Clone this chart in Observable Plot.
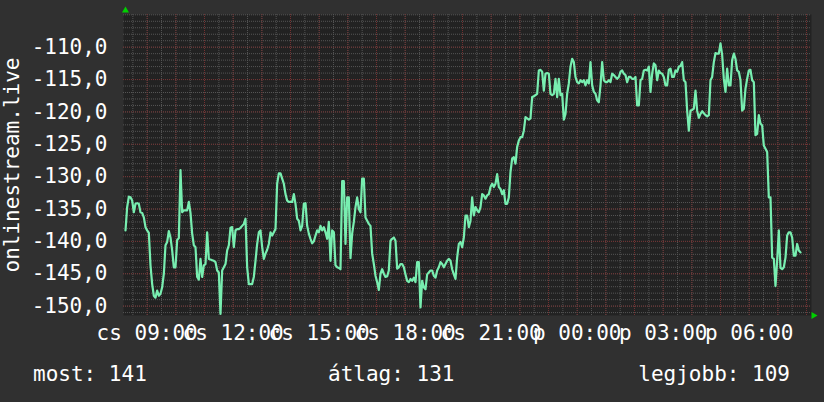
<!DOCTYPE html>
<html><head><meta charset="utf-8">
<script src="https://cdn.jsdelivr.net/npm/d3@7"></script>
<script src="https://cdn.jsdelivr.net/npm/@observablehq/plot@0.6"></script>
<style>
html,body{margin:0;padding:0;background:#303030;}
body{width:824px;height:402px;overflow:hidden;font-family:"DejaVu Sans Mono",monospace;color:#fff;}
#chart svg{display:block;}
#footer{position:relative;height:52px;font-size:21px;line-height:21px;}
#footer span{position:absolute;top:14px;white-space:pre;}
</style></head>
<body><div id="chart"></div><div id="footer"></div>
<script>
// ---- data ----
const yAxisLabel = "onlinestream.live";
const dayAbbr = ["v", "h", "k", "sze", "cs", "p", "szo"];
const domainStart = "2024-01-04T08:10:24";
const domainEnd = "2024-01-05T08:10:24";
const sampleStart = "2024-01-04T08:14:35";
const sampleStepSec = 209.3;
const yDomain = [-151.45, -104.95];
const yTicks = [-150, -145, -140, -135, -130, -125, -120, -115, -110];
const summaryLabels = ["most", "átlag", "legjobb"];
const summaryValues = [141, 131, 109];

const valuesThuMorning = [
-138.3,-134.7,-133.1,-133.2,-133.7,-135.5,-134.2,-134.1,-134.2,-135.5,
-135.6,-136.3,-137.8,-138.3,-138.7,-143.7,-146.6,-148.4,-148.7,-147.6,
-148.4,-148.1,-147.1,-145.0,-140.6,-140.1,-138.4,-139.4,-141.4,-144.0,
-144.0,-139.8,-139.5,-129.0,-135.5,-135.2,-135.2,-135.2,-133.9,-135.6,
-138.8,-140.6,-140.9,-145.5,-145.9,-142.7,-145.5,-143.7,-143.5,-138.6,
-142.7,-142.8,-142.9,-143.0,-143.2,-144.5,-144.8,-151.2,-144.5,-144.0,
-143.5,-141.4,-140.6,-137.9,-137.8,-140.9,-138.3,-138.1,-138.1,-137.9,
-137.6,-137.3,-136.5,-144.0,-146.6,-146.6,-146.6,-145.5];
const valuesThuAfternoon = [
-145.4,-143.0,-140.4,-138.6,-138.3,-140.9,-142.7,-141.9,-141.3,-140.4,
-138.6,-139.1,-138.6,-138.1,-131.1,-129.5,-129.5,-130.3,-131.1,-132.7,
-133.7,-133.9,-133.9,-133.9,-132.7,-134.2,-136.5,-136.8,-138.3,-137.6,
-134.2,-134.1,-137.6,-138.8,-139.6,-140.3,-140.0,-139.1,-138.3,-138.6,
-137.6,-138.3,-137.8,-138.6,-139.6,-137.0,-143.0,-138.3,-138.6,-143.7,
-144.0,-144.1,-144.3,-130.7,-130.7,-140.4,-133.2,-133.2,-142.6,-138.8,
-137.0,-134.7,-133.2,-135.0,-135.5,-130.3,-130.3,-136.3,-136.8,-137.3,
-137.6,-141.9,-143.5,-145.3,-146.3,-147.5,-145.0,-144.3,-145.0,-145.5,
-145.4];
const valuesThuEvening = [
-145.1,-144.5,-139.9,-139.6,-139.4,-139.9,-144.2,-144.0,-143.5,-143.5,
-144.0,-145.1,-146.1,-146.3,-145.8,-146.1,-145.6,-146.3,-143.2,-143.2,
-150.2,-146.1,-147.1,-147.4,-145.1,-144.8,-144.5,-144.5,-145.3,-145.6,
-144.5,-144.0,-143.2,-143.5,-144.0,-143.5,-143.0,-142.7,-143.0,-144.3,
-145.1,-145.8,-142.5,-140.4,-140.1,-140.9,-139.4,-136.0,-136.0,-137.8,
-136.8,-133.2,-136.0,-134.7,-135.2,-135.5,-134.7,-132.7,-132.9,-133.4,
-132.9,-132.7,-131.6,-131.1,-131.6,-131.1,-129.6,-131.6,-131.9,-132.7,
-132.1,-134.2,-134.2,-133.2,-129.3,-127.2,-127.0,-128.0,-125.4,-124.4,
-123.9];
const valuesFriNight = [
-123.9,-123.9,-122.9,-120.8,-121.0,-121.2,-121.0,-117.7,-117.6,-117.4,
-117.2,-113.6,-113.5,-113.8,-116.7,-114.1,-114.0,-114.1,-117.2,-117.4,
-117.2,-114.9,-117.7,-114.9,-117.4,-117.2,-121.2,-120.3,-117.2,-115.6,
-113.0,-111.8,-112.3,-114.6,-115.4,-115.6,-115.1,-115.4,-115.1,-115.9,
-115.1,-115.6,-112.3,-115.9,-116.9,-117.2,-118.2,-118.5,-115.9,-112.3,
-115.1,-115.4,-115.4,-115.1,-115.4,-114.1,-114.3,-114.6,-114.9,-114.6,
-113.8,-113.6,-114.1,-114.3,-115.4,-114.6,-114.6,-114.9,-114.9,-114.6,
-119.0,-119.0,-115.1,-114.9,-113.6,-113.5,-113.6,-113.0,-116.9,-114.1,
-112.5];
const valuesFriMorning = [
-112.5,-112.8,-115.1,-113.6,-114.0,-114.1,-114.6,-115.9,-115.9,-113.5,
-113.3,-114.6,-114.6,-113.6,-113.8,-113.0,-112.9,-112.3,-115.1,-115.4,
-119.8,-122.9,-119.8,-119.7,-119.5,-116.7,-119.8,-120.9,-120.3,-119.9,
-120.2,-120.5,-120.7,-120.5,-115.1,-114.6,-112.3,-110.9,-111.0,-111.0,
-109.4,-111.2,-114.9,-116.9,-113.3,-115.9,-115.9,-112.0,-111.0,-111.8,
-113.6,-113.8,-115.1,-119.8,-119.5,-116.4,-114.9,-113.6,-113.5,-115.1,
-115.4,-123.6,-123.4,-120.5,-121.8,-122.1,-125.2,-125.7,-126.2,-133.2,
-133.2,-142.5,-142.7,-146.9,-143.0,-138.3,-144.1,-144.3,-144.0,-142.5,
-139.1,-138.6,-138.6,-139.4,-142.2,-142.2,-140.4,-141.4,-141.7];

// ---- build ----
const values = [...valuesThuMorning, ...valuesThuAfternoon.slice(1), ...valuesThuEvening.slice(1), ...valuesFriNight.slice(1), ...valuesFriMorning.slice(1)];
const x0 = new Date(domainStart), x1 = new Date(domainEnd);
const t0 = new Date(sampleStart);
const data = values.map((v, i) => ({t: new Date(+t0 + i * sampleStepSec * 1000), v}));
const hours = d3.timeHour.every(1).range(x0, x1);
const halfHours = d3.timeMinute.every(30).range(x0, x1);
const xTicks = d3.timeHour.every(3).range(x0, x1);
const yMinor = d3.range(Math.ceil(yDomain[0]), Math.floor(yDomain[1]) + 1, 1);
const fmtHM = d3.timeFormat("%H:%M");
const red = "#743232", gray = "#555555", green = "#00d000";

const chart = Plot.plot({
  width: 824, height: 350,
  marginLeft: 123, marginRight: 13, marginTop: 14, marginBottom: 35,
  style: {background: "#303030", color: "#fff", fontFamily: "'DejaVu Sans Mono', monospace", fontSize: "21px", overflow: "visible"},
  x: {type: "time", domain: [x0, x1]},
  y: {domain: yDomain},
  marks: [
    Plot.frame({fill: "#222222", stroke: "none"}),
    Plot.ruleY(yMinor, {stroke: gray, strokeDasharray: "1,1"}),
    Plot.ruleX(halfHours, {stroke: gray, strokeDasharray: "1,1"}),
    Plot.ruleY(yTicks, {stroke: red, strokeDasharray: "1,1"}),
    Plot.ruleX(hours, {stroke: red, strokeDasharray: "1,1"}),
    Plot.line(data, {x: "t", y: "v", stroke: "#78eeb0", strokeWidth: 2.2}),
    Plot.axisY(yTicks, {tickSize: 0, tickPadding: 16, label: null, tickFormat: d => d.toFixed(1).replace(".", ",")}),
    Plot.axisX(xTicks, {tickSize: 0, tickPadding: 10, label: null, tickFormat: d => `${dayAbbr[d.getDay()]} ${fmtHM(d)}`}),
    Plot.text([yAxisLabel], {frameAnchor: "left", textAnchor: "middle", lineAnchor: "middle", rotate: -90, dx: -111, text: d => d, fill: "#fff"}),
    Plot.dot([x0], {x: d => d, y: () => yDomain[1], symbol: "triangle", r: 2.6, fill: green, stroke: "none", dx: 2, dy: -4}),
    Plot.dot([x1], {x: d => d, y: () => yDomain[0], symbol: "triangle", r: 2.6, fill: green, stroke: "none", rotate: 90, dx: 2})
  ]
});
document.getElementById("chart").append(chart);

const footer = document.getElementById("footer");
const pos = [{left: "33px"}, {left: "328px"}, {right: "34px"}];
summaryLabels.forEach((lab, i) => {
  const s = document.createElement("span");
  s.textContent = `${lab}: ${summaryValues[i]}`;
  Object.assign(s.style, pos[i]);
  footer.append(s);
});
</script></body></html>
